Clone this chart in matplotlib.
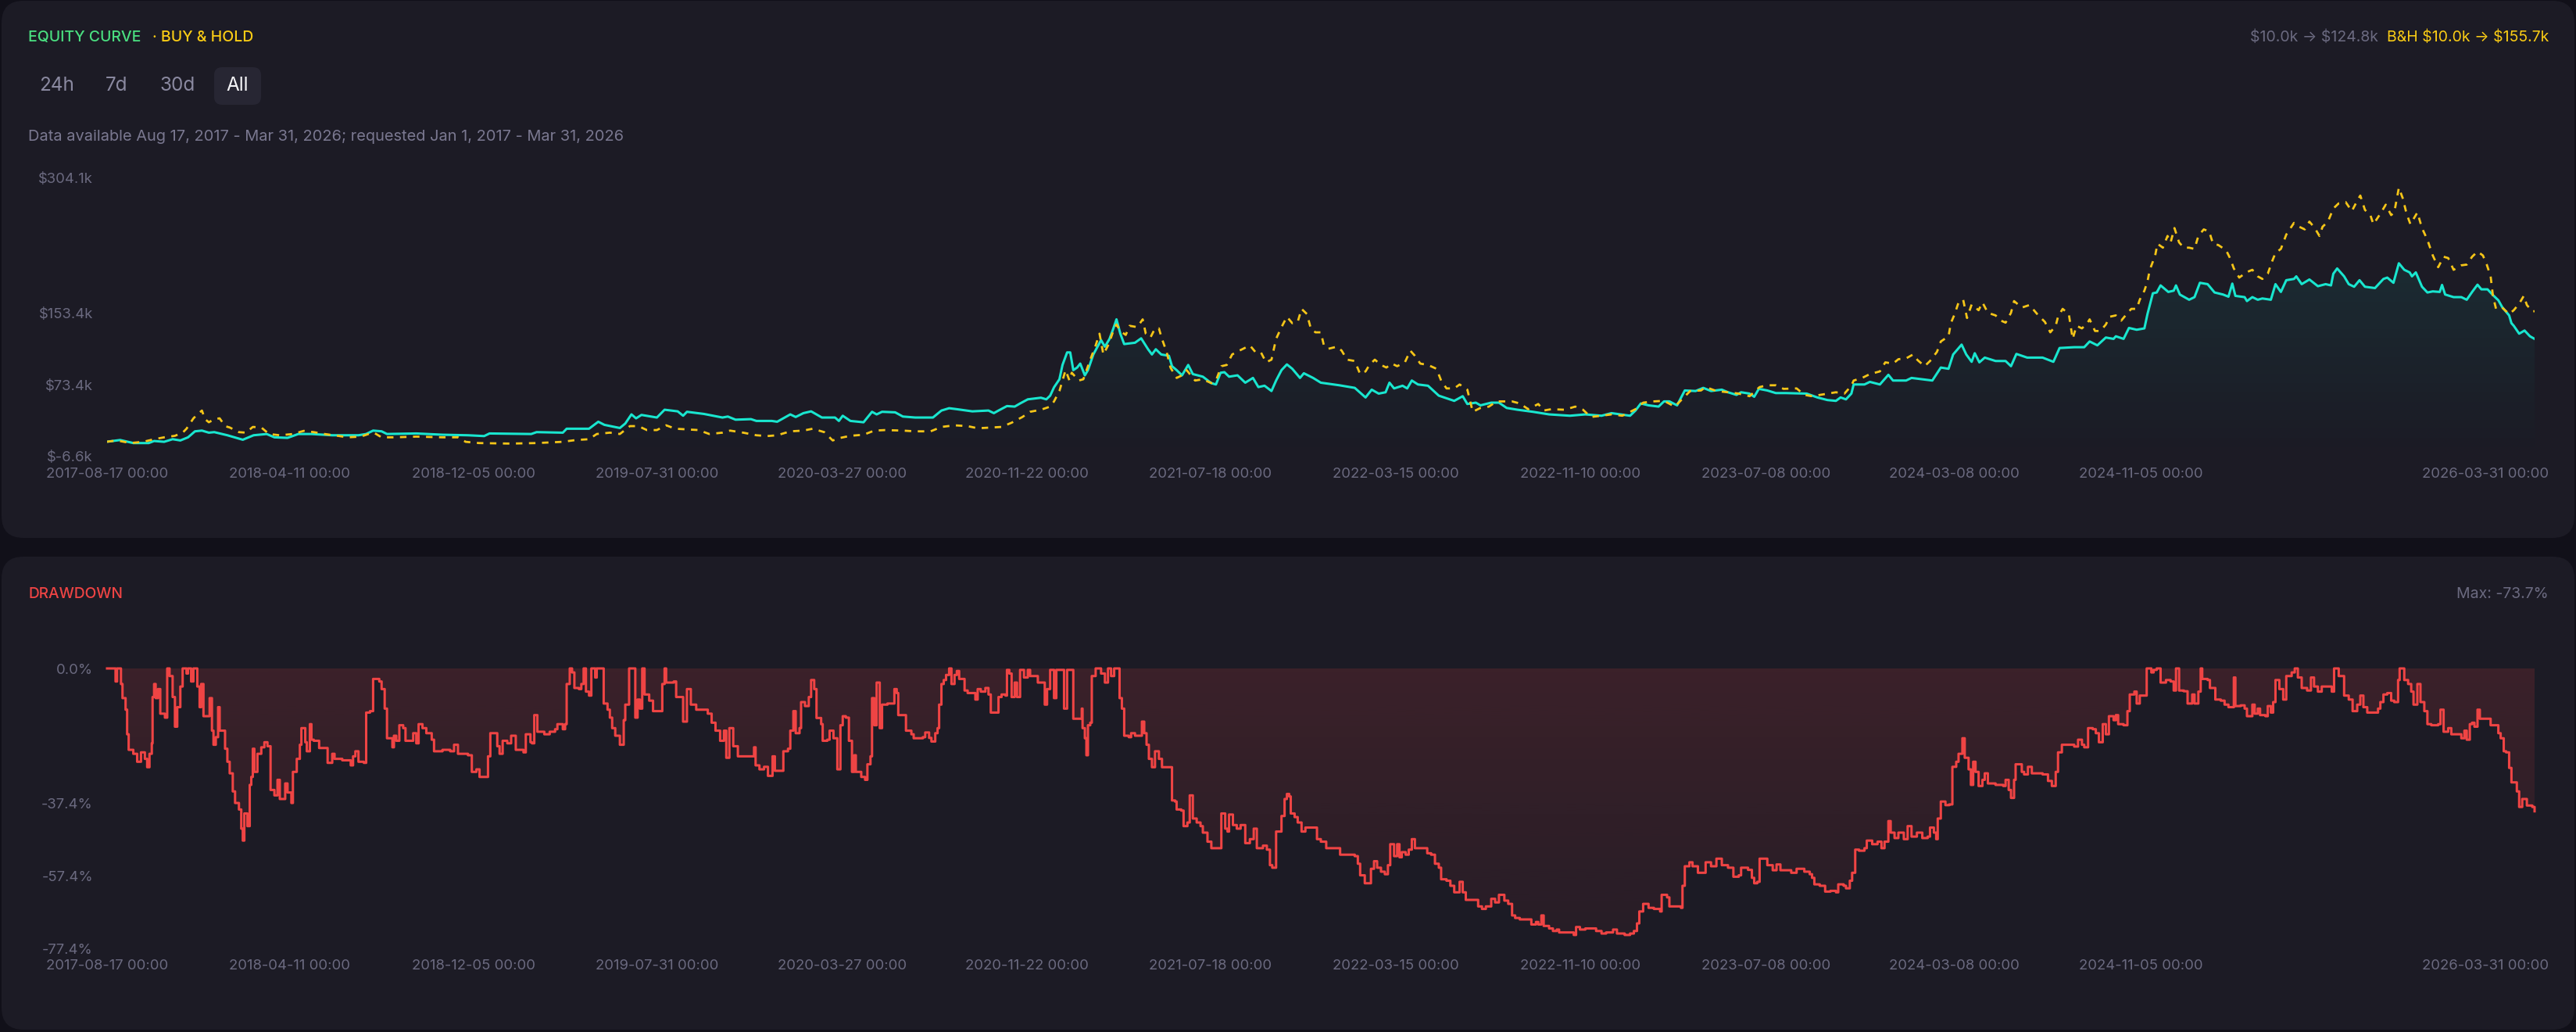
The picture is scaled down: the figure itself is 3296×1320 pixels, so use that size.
import matplotlib
matplotlib.use('Agg')
import matplotlib.pyplot as plt
import matplotlib.colors as mcolors
from matplotlib.patches import FancyBboxPatch
from matplotlib.transforms import IdentityTransform
import numpy as np
import pandas as pd

plt.rcParams['font.family'] = ['Inter', 'DejaVu Sans']

START = pd.Timestamp('2017-08-17')
END = pd.Timestamp('2026-03-31')

# strategy equity ($k), days since 2017-08-17
strat_days = [0, 17, 34, 54, 61, 74, 85, 95, 105, 114, 123, 132, 139, 156, 176, 190, 207, 217, 234, 248,
              265, 292, 326, 336, 345, 356, 363, 401, 435, 468, 489, 496, 550, 557, 591, 596, 608, 625, 637, 645,
              665, 672, 680, 686, 693, 713, 723, 740, 747, 752, 774, 798, 805, 815, 835, 842, 862, 869, 886, 893,
              903, 913, 927, 944, 949, 954, 964, 981, 992, 998, 1005, 1022, 1032,
              1048, 1071, 1082, 1092, 1102, 1122, 1143, 1150, 1156, 1167, 1177, 1184, 1194, 1211, 1218, 1223, 1228, 1235, 1239, 1245,
              1249, 1253, 1258, 1262, 1268, 1272, 1279, 1289, 1294, 1300, 1305, 1309, 1314, 1319, 1333, 1341, 1350, 1355, 1360, 1367,
              1377, 1381, 1387, 1394, 1402, 1408, 1421, 1432, 1438, 1444, 1449, 1455, 1466, 1476, 1486, 1493, 1501, 1510, 1516, 1523,
              1530, 1537, 1547, 1552, 1564, 1574, 1598, 1618, 1632, 1640, 1649, 1658, 1663, 1669, 1680, 1686, 1692, 1700, 1713, 1727,
              1747, 1758, 1764, 1775, 1781, 1795, 1805, 1815, 1829, 1849, 1870, 1897, 1917, 1938, 1951, 1975, 1982, 1989, 1999, 2012,
              2019, 2026, 2036, 2046, 2060, 2070, 2080, 2094,
              2102, 2113, 2119, 2130, 2136, 2142, 2153, 2164, 2177, 2204, 2218, 2231, 2242, 2248, 2255, 2262, 2265, 2279, 2286, 2299,
              2310, 2316, 2333, 2340, 2367, 2378, 2388, 2394, 2405, 2411, 2418, 2422, 2428, 2435, 2449, 2462, 2469, 2476, 2490, 2510,
              2524, 2532, 2551, 2564, 2571, 2581, 2592, 2602, 2605, 2615, 2622, 2632, 2642, 2646, 2653, 2658, 2663, 2673, 2680, 2683,
              2688, 2700, 2707, 2714, 2724, 2733, 2744, 2751, 2756, 2760, 2772, 2775, 2782, 2789, 2795, 2806, 2812, 2819, 2826, 2836,
              2839, 2846, 2856, 2867, 2877, 2884, 2887, 2892, 2901, 2907, 2914, 2921, 2928, 2941, 2952, 2957, 2965, 2972, 2979, 2986,
              2989, 2994, 3002, 3009, 3016, 3025, 3028, 3032, 3043, 3053, 3060, 3067, 3074, 3079, 3087, 3094, 3101, 3106, 3115, 3118,
              3121, 3128, 3135, 3142, 3148]
strat_vals = [10.0, 11.9, 8.5, 8.5, 10.8, 9.9, 12.8, 11.4, 14.9, 21.6, 22.4, 20.1, 20.7, 17.2, 12.2, 17.2, 18.6, 14.9, 14.3, 18.6,
              18.6, 17.2, 17.2, 18.6, 22.4, 21.6, 18.6, 19.2, 17.8, 17.2, 16.3, 19.2, 18.6, 20.7, 20.1, 24.5, 24.5, 24.5, 32.3, 28.8,
              25.3, 30.3, 40.5, 36.1, 39.9, 37.0, 45.7, 43.9, 39.0, 43.4, 41.0, 37.0, 38.1, 34.6, 35.2, 33.2, 33.2, 32.3, 40.5, 37.6,
              41.9, 43.9, 37.0, 37.0, 33.2, 39.0, 33.2, 31.7, 43.4, 40.5, 43.4, 42.8, 38.1,
              37.0, 37.0, 44.8, 47.4, 46.3, 43.9, 44.8, 41.9, 44.8, 49.8, 49.2, 52.7, 57.3, 59.1, 57.3, 61.4, 70.7, 79.7, 95.7, 109.7,
              109.7, 89.9, 92.8, 97.2, 84.1, 89.9, 107.4, 123.4, 116.1, 124.8, 136.5, 146.6, 130.6, 119.0, 120.5, 125.4, 113.2, 107.4, 113.2, 107.4,
              105.9, 94.3, 89.9, 84.1, 95.7, 85.5, 82.6, 75.4, 73.9, 87.0, 87.6, 82.6, 84.1, 75.9, 81.2, 71.0, 72.5, 66.6, 78.3, 89.9,
              96.3, 91.4, 81.2, 86.4, 81.2, 75.9, 73.0, 70.1, 59.4, 68.1, 63.7, 65.2, 75.9, 69.5, 72.5, 69.5, 78.3, 73.9, 72.5, 61.4,
              55.6, 60.8, 52.1, 53.6, 50.6, 53.6, 53.6, 47.7, 45.7, 43.4, 40.5, 39.0, 40.5, 39.0, 41.9, 39.0, 44.8, 52.7, 50.6, 49.2,
              55.0, 55.0, 50.6, 67.2, 66.6, 70.1, 66.6, 68.1,
              65.2, 62.3, 65.2, 63.7, 60.2, 69.0, 67.2, 64.3, 64.3, 63.7, 59.4, 56.5, 55.6, 59.4, 57.3, 63.7, 73.9, 73.9, 76.8, 73.9,
              84.7, 78.3, 78.3, 81.2, 78.3, 92.8, 91.4, 107.4, 118.4, 107.4, 99.2, 108.8, 98.6, 103.9, 100.1, 100.1, 94.3, 108.0, 103.9, 103.9,
              99.2, 114.6, 115.5, 115.5, 121.9, 117.6, 126.3, 124.8, 127.7, 124.8, 137.0, 135.0, 136.5, 152.5, 175.7, 176.6, 184.5, 177.2, 178.6, 184.5,
              174.3, 168.5, 171.4, 187.4, 185.9, 176.6, 174.3, 171.9, 186.5, 172.8, 171.4, 167.0, 171.4, 168.5, 169.9, 168.5, 185.9, 177.2, 190.3, 191.7,
              194.6, 185.9, 191.1, 183.6, 185.9, 184.5, 197.5, 203.4, 194.6, 185.9, 183.0, 190.3, 183.0, 181.5, 191.7, 193.2, 187.4, 209.2, 201.9, 199.0,
              194.6, 199.0, 183.0, 176.6, 177.8, 177.2, 185.0, 174.3, 171.4, 171.4, 168.5, 177.2, 185.3, 180.1, 180.1, 173.7, 167.9, 160.3, 151.0, 142.3,
              139.4, 130.6, 134.1, 127.7, 124.8]

# buy & hold equity ($k)
bh_days = [0, 13, 30, 47, 61, 74, 88, 98, 103, 112, 119, 123, 127, 132, 139, 146, 153, 159, 171, 180,
           189, 200, 210, 224, 241, 255, 268, 282, 299, 312, 329, 339, 346, 356, 373, 401, 435, 455, 465, 482,
           523, 557, 591, 608, 625, 635, 652, 665, 678, 689, 700, 713, 725, 737, 767, 781, 798, 808, 825, 842,
           856, 869, 886, 903, 915, 930, 941, 951, 964, 981, 995, 1009, 1032,
           1048, 1068, 1082, 1099, 1116, 1129, 1160, 1173, 1187, 1197, 1211, 1223, 1228, 1235, 1239, 1243, 1248, 1251, 1260, 1266,
           1275, 1282, 1287, 1292, 1299, 1306, 1309, 1314, 1321, 1326, 1336, 1343, 1347, 1353, 1359, 1364, 1368, 1374, 1379, 1387,
           1394, 1400, 1411, 1421, 1432, 1438, 1445, 1452, 1459, 1465, 1472, 1482, 1489, 1496, 1503, 1510, 1516, 1523, 1530, 1537,
           1544, 1549, 1556, 1561, 1567, 1574, 1578, 1584, 1595, 1601, 1608, 1618, 1625, 1632, 1637, 1644, 1652, 1659, 1666, 1673,
           1683, 1690, 1696, 1703, 1713, 1724, 1730, 1737, 1747, 1754, 1764, 1771, 1781, 1792, 1802, 1822, 1832, 1843, 1856, 1863,
           1873, 1890, 1904, 1914, 1924, 1938, 1951, 1965, 1982, 1992, 2005, 2019, 2033, 2043, 2053, 2067, 2073, 2087,
           2102, 2116, 2130, 2143, 2153, 2164, 2174, 2191, 2201, 2211, 2228, 2242, 2253, 2262, 2265, 2276, 2286, 2299, 2306, 2316,
           2323, 2333, 2342, 2348, 2357, 2364, 2373, 2378, 2388, 2391, 2396, 2401, 2407, 2412, 2418, 2427, 2432, 2439, 2449, 2456,
           2462, 2469, 2473, 2483, 2493, 2503, 2513, 2520, 2527, 2530, 2536, 2544, 2549, 2554, 2561, 2568, 2571, 2578, 2585, 2592,
           2597, 2605, 2612, 2619, 2625, 2632, 2636, 2642, 2646, 2649, 2656, 2659, 2666, 2672, 2676, 2681, 2687, 2693, 2700, 2707,
           2712, 2719, 2726, 2731, 2738, 2748, 2753, 2758, 2765, 2774, 2782, 2789, 2795, 2802, 2808, 2812, 2819, 2826, 2836, 2843,
           2850, 2856, 2863, 2869, 2873, 2880, 2887, 2894, 2903, 2911, 2918, 2922, 2928, 2935, 2939, 2948, 2955, 2962, 2966, 2972,
           2977, 2982, 2987, 2996, 3002, 3009, 3016, 3023, 3030, 3036, 3043, 3053, 3060, 3067, 3074, 3081, 3086, 3091, 3094, 3098,
           3106, 3115, 3121, 3128, 3134, 3138, 3145, 3148]
bh_vals = [10.0, 11.4, 8.5, 9.9, 12.8, 14.9, 16.6, 20.1, 24.5, 36.1, 41.9, 44.8, 35.2, 31.7, 35.2, 36.1, 27.4, 25.9, 20.7, 20.1,
           26.5, 25.9, 18.6, 17.2, 18.6, 22.1, 20.7, 18.6, 16.6, 14.9, 15.7, 18.6, 20.1, 14.9, 14.9, 15.7, 14.9, 14.9, 9.9, 8.5,
           7.9, 8.5, 9.9, 11.9, 12.8, 18.6, 20.1, 18.6, 27.4, 27.4, 23.0, 23.0, 28.3, 24.5, 23.0, 18.6, 20.1, 22.4, 20.1, 17.2,
           16.3, 17.2, 21.6, 22.4, 24.5, 20.7, 11.4, 14.3, 16.6, 17.8, 22.4, 23.0, 22.4,
           21.6, 21.6, 26.5, 28.3, 27.4, 25.0, 26.5, 31.2, 37.6, 43.4, 45.7, 49.2, 55.0, 66.6, 78.3, 89.9, 78.3, 87.0, 78.3, 79.7,
           101.6, 117.5, 130.6, 107.4, 119.0, 136.5, 140.8, 133.6, 129.2, 139.4, 137.9, 146.6, 130.6, 126.3, 136.5, 136.5, 124.8, 110.3, 92.8, 81.2,
           84.1, 89.9, 78.3, 79.7, 75.4, 78.3, 94.3, 95.7, 107.4, 110.3, 113.2, 117.5, 110.3, 110.3, 98.6, 101.6, 124.8, 137.9, 149.5, 142.3,
           143.7, 158.3, 152.5, 136.5, 132.1, 132.1, 117.5, 113.8, 116.1, 111.7, 101.6, 100.1, 85.5, 88.5, 95.7, 101.6, 95.7, 92.8, 97.2, 94.3,
           98.6, 111.7, 105.9, 97.2, 95.7, 91.4, 78.3, 69.5, 69.5, 73.9, 68.1, 43.4, 47.7, 49.2, 55.0, 55.0, 52.7, 46.3, 52.1, 44.8,
           46.3, 45.7, 49.2, 45.7, 37.6, 39.0, 40.5, 39.0, 46.3, 53.6, 55.0, 55.6, 49.2, 57.9, 66.6, 67.2, 71.0, 66.6,
           65.2, 63.7, 60.8, 71.0, 73.0, 73.0, 69.0, 69.5, 62.3, 60.8, 63.2, 65.2, 63.7, 72.5, 78.3, 81.2, 85.5, 88.5, 98.6, 97.2,
           102.1, 103.0, 107.4, 101.0, 94.3, 100.1, 110.3, 121.9, 127.7, 142.3, 152.5, 165.5, 168.5, 148.1, 163.2, 156.8, 165.5, 153.9, 151.0, 145.2,
           142.9, 153.9, 167.0, 159.7, 162.6, 152.5, 143.7, 132.1, 139.4, 149.5, 158.3, 152.5, 124.8, 139.4, 136.5, 142.3, 146.6, 133.6, 133.6, 140.8,
           149.5, 151.0, 145.2, 152.5, 158.3, 158.3, 168.5, 178.6, 188.8, 201.9, 217.9, 231.0, 226.6, 239.7, 232.5, 248.5, 232.5, 226.6, 226.6, 225.2,
           239.7, 247.0, 244.7, 231.0, 229.5, 223.7, 215.0, 203.4, 193.2, 199.0, 201.9, 194.6, 191.7, 197.5, 212.1, 220.8, 225.2, 241.2, 254.3, 249.9,
           247.0, 255.7, 248.5, 239.7, 249.9, 255.7, 270.3, 276.1, 277.5, 267.4, 279.0, 284.8, 268.8, 263.0, 252.8, 264.5, 274.6, 263.0, 265.9, 293.5,
           281.9, 264.5, 252.8, 265.9, 248.5, 235.4, 217.9, 204.8, 216.5, 215.0, 201.9, 206.9, 207.7, 216.5, 222.3, 217.9, 207.7, 194.6, 172.8, 158.3,
           159.7, 152.5, 156.8, 164.1, 172.8, 162.6, 155.4, 155.7]

# drawdown (%), (day, value)
dd_points = [
    (0, 0), (11, -3.6), (13, 0), (17, 0), (18, -4.3), (20, -8.2), (24, -11.4), (26, -18.2), (28, -22.5), (34, -23.6),
    (39, -25.8), (44, -23.2), (49, -25.0), (52, -27.3), (55, -23.6), (58, -20.7), (59, -7.9), (61, -4.3), (63, -8.2), (66, -5.7),
    (69, -12.5), (75, -13.6), (78, 0), (81, -2.1), (85, -7.9), (88, -16.1), (91, -10.7), (95, -5.0), (98, 0), (103, -1.4),
    (105, 0), (109, -3.6), (112, 0), (115, 0), (117, -5.0), (120, -10.7), (122, -4.3), (125, -13.2), (131, -13.2), (133, -8.2),
    (136, -17.2), (138, -21.1), (141, -19.0), (144, -10.7), (146, -17.2), (151, -17.2), (153, -22.2), (156, -25.8), (159, -29.0), (163, -34.0),
    (166, -37.2), (171, -39.0), (174, -44.3), (176, -47.6), (178, -40.1), (182, -43.6), (185, -32.2), (187, -30.0), (189, -22.2), (191, -28.6),
    (195, -23.6), (200, -21.8), (204, -20.4), (208, -21.5), (212, -33.6), (217, -35.1), (221, -30.8), (224, -36.1), (227, -36.1), (231, -31.8),
    (234, -34.3), (239, -37.2), (241, -28.6), (246, -25.0), (250, -21.1), (252, -16.5), (257, -20.4), (259, -22.9), (263, -15.4), (265, -19.7),
    (268, -20.0), (275, -22.0), (284, -22.0), (286, -26.1), (292, -23.6), (295, -25.0), (305, -25.4), (316, -26.8), (319, -24.3), (322, -22.9),
    (326, -25.8), (333, -26.1), (336, -12.2), (341, -11.8), (345, -2.9), (353, -3.6), (356, -5.7), (360, -11.1), (363, -19.3), (370, -21.8),
    (372, -18.6), (375, -20.0), (379, -15.7), (384, -16.5), (387, -20.0), (394, -20.0), (397, -17.9), (401, -20.7), (404, -15.4), (409, -16.5),
    (414, -17.9), (421, -19.7), (424, -22.9), (435, -22.5), (445, -22.9), (450, -21.1), (455, -23.6), (468, -24.0), (473, -28.6), (479, -27.9),
    (483, -30.0), (490, -30.0), (494, -24.3), (497, -17.9), (501, -17.9), (506, -21.5), (509, -23.6), (513, -20.0), (519, -20.7), (524, -18.6),
    (530, -22.5), (540, -23.2), (543, -18.2), (549, -20.4), (551, -20.7), (554, -12.9), (558, -17.5), (567, -18.2), (574, -17.5), (581, -16.8),
    (584, -15.4), (591, -16.8), (594, -15.4), (596, -4.3), (600, 0), (603, -1.1), (606, -5.4), (612, -5.7), (615, -4.3), (618, 0),
    (621, -6.4), (625, -7.5), (628, 0), (633, -2.5), (635, 0), (642, 0), (644, -9.7), (649, -11.4), (652, -13.6), (655, -16.5),
    (659, -18.6), (665, -21.1), (670, -14.3), (672, -10.0), (677, 0), (682, 0), (685, -13.6), (688, -8.6), (691, -11.1), (694, 0),
    (697, -7.2), (703, -8.9), (708, -11.8), (714, -11.8), (720, -4.3), (723, 0), (725, -3.9), (735, -3.6), (738, -7.9), (744, -7.9),
    (747, -14.7), (752, -5.7), (757, -10.0), (764, -11.4), (776, -11.4), (779, -12.5), (784, -15.0), (789, -17.2), (795, -20.0), (800, -17.2),
    (803, -24.7), (807, -16.5), (812, -21.5), (818, -24.3), (835, -24.3), (839, -21.8), (841, -26.8), (846, -27.9), (852, -27.2), (857, -29.7),
    (863, -24.3), (866, -28.3), (874, -28.3), (877, -22.9), (883, -22.2), (886, -17.2), (890, -11.8), (893, -17.9), (898, -16.5), (900, -9.3),
    (905, -10.4), (910, -7.9), (913, -3.2), (917, -5.7), (920, -13.7), (926, -15.4), (928, -20.0), (934, -19.7), (937, -17.2), (942, -19.3),
    (945, -19.3), (947, -27.9), (951, -15.7), (954, -13.2), (958, -13.6), (962, -20.0), (966, -28.6), (969, -24.0), (971, -28.6), (978, -30.0),
    (983, -30.8), (986, -26.5), (990, -24.3), (992, -8.2), (995, -15.7), (998, -3.9), (1002, -16.5), (1005, -10.0), (1012, -9.7), (1019, -9.7),
    (1021, -5.7), (1024, -6.8), (1026, -12.9), (1032, -12.9), (1036, -17.2), (1043, -18.2), (1046, -19.3),
    (1048, -19.3), (1058, -19.0), (1061, -17.7), (1066, -19.2), (1069, -20.2), (1074, -17.9), (1077, -16.5), (1079, -10.0), (1082, -4.3), (1085, -3.2),
    (1088, -1.8), (1092, 0), (1095, -4.3), (1099, -1.8), (1102, -0.7), (1105, -2.9), (1112, -6.1), (1116, -6.8), (1122, -6.8), (1126, -8.6),
    (1129, -5.7), (1133, -6.4), (1139, -5.4), (1143, -7.2), (1146, -12.2), (1153, -12.2), (1156, -7.9), (1160, -7.2), (1165, -7.5), (1167, -0.4),
    (1170, -1.4), (1173, -7.9), (1177, -3.9), (1180, -7.9), (1184, -0.4), (1189, -2.5), (1194, -0.4), (1197, -2.1), (1203, -2.1), (1207, -3.9),
    (1213, -3.9), (1216, -10.0), (1219, -5.7), (1223, -0.4), (1226, -0.4), (1228, -8.2), (1231, -0.4), (1238, -0.4), (1241, -11.1), (1245, -0.4),
    (1250, -0.4), (1253, -13.9), (1262, -13.9), (1264, -11.1), (1265, -16.5), (1268, -19.3), (1270, -24.0), (1272, -15.7), (1275, -15.0), (1277, -2.1),
    (1282, 0), (1285, 0), (1289, -1.4), (1294, -3.9), (1298, 0), (1302, -2.1), (1306, 0), (1309, 0), (1313, -8.2), (1316, -11.1),
    (1319, -18.6), (1325, -19.0), (1328, -17.9), (1333, -18.6), (1340, -18.6), (1342, -14.7), (1345, -17.9), (1348, -21.1), (1351, -25.0), (1355, -27.3),
    (1359, -22.9), (1364, -25.0), (1368, -27.3), (1377, -27.3), (1381, -36.5), (1385, -36.8), (1387, -39.0), (1393, -39.3), (1396, -43.6), (1401, -42.6),
    (1404, -35.1), (1408, -41.5), (1413, -42.6), (1418, -43.6), (1421, -45.4), (1427, -47.9), (1432, -49.7), (1442, -49.7), (1445, -40.1), (1450, -44.3),
    (1453, -45.1), (1455, -40.4), (1460, -43.3), (1465, -44.3), (1470, -43.3), (1476, -48.3), (1482, -47.2), (1487, -44.3), (1491, -49.7), (1496, -49.7),
    (1499, -49.0), (1504, -50.1), (1508, -54.4), (1511, -55.1), (1516, -45.1), (1523, -40.8), (1527, -36.1), (1530, -34.7), (1533, -35.4), (1535, -40.1),
    (1540, -41.1), (1544, -42.6), (1549, -45.1), (1554, -44.0), (1564, -44.0), (1569, -47.2), (1574, -47.9), (1581, -49.7), (1595, -49.7), (1599, -51.5),
    (1618, -51.9), (1622, -54.0), (1625, -57.2), (1631, -59.4), (1635, -59.4), (1639, -55.4), (1643, -53.3), (1647, -55.1), (1652, -56.2), (1657, -56.9),
    (1661, -54.4), (1664, -48.6), (1669, -51.9), (1673, -48.6), (1676, -52.2), (1679, -50.8), (1684, -51.5), (1688, -50.1), (1692, -47.2), (1696, -49.7),
    (1707, -49.7), (1712, -51.1), (1717, -51.5), (1722, -54.0), (1727, -55.1), (1730, -58.3), (1737, -58.7), (1742, -60.1), (1747, -61.9), (1754, -59.0),
    (1758, -61.9), (1762, -64.0), (1771, -64.0), (1778, -65.8), (1783, -66.5), (1788, -65.8), (1795, -63.7), (1800, -64.7), (1805, -62.6), (1812, -64.2),
    (1817, -65.1), (1822, -68.3), (1826, -69.0), (1832, -69.4), (1841, -69.4), (1847, -70.8), (1853, -70.1), (1856, -70.8), (1860, -68.3), (1863, -71.2),
    (1870, -71.9), (1875, -72.6), (1880, -72.2), (1883, -73.0), (1893, -73.0), (1902, -73.7), (1905, -71.5), (1910, -72.2), (1917, -71.9), (1925, -71.9),
    (1931, -72.6), (1938, -73.3), (1944, -73.0), (1953, -72.2), (1958, -73.3), (1968, -73.7), (1975, -73.3), (1980, -72.6), (1984, -70.5), (1987, -67.2),
    (1992, -65.1), (1999, -66.2), (2006, -66.5), (2014, -67.2), (2016, -62.6), (2023, -63.3), (2026, -65.8), (2041, -66.2), (2043, -60.1), (2046, -54.7),
    (2052, -53.6), (2056, -54.7), (2063, -56.5), (2070, -56.5), (2073, -53.6), (2080, -54.7), (2087, -52.6), (2094, -54.4),
    (2102, -55.1), (2109, -57.6), (2116, -57.2), (2119, -55.1), (2128, -55.7), (2133, -57.9), (2136, -59.4), (2140, -59.0), (2143, -52.6), (2153, -54.4),
    (2160, -55.8), (2165, -54.2), (2170, -55.8), (2181, -55.8), (2184, -56.5), (2191, -55.4), (2201, -56.2), (2208, -56.9), (2211, -57.9), (2214, -59.7),
    (2221, -60.1), (2228, -61.7), (2235, -61.5), (2242, -61.9), (2245, -59.7), (2252, -60.1), (2255, -60.8), (2260, -58.7), (2263, -56.5), (2267, -50.1),
    (2272, -50.4), (2279, -49.7), (2282, -47.6), (2289, -48.6), (2296, -47.9), (2301, -49.7), (2305, -47.9), (2310, -42.2), (2313, -45.4), (2318, -46.9),
    (2323, -45.4), (2330, -47.2), (2335, -43.6), (2340, -46.5), (2347, -45.4), (2354, -46.9), (2361, -46.5), (2364, -44.0), (2369, -45.4), (2372, -47.2),
    (2374, -41.5), (2378, -36.8), (2384, -37.8), (2389, -37.6), (2393, -27.2), (2398, -25.8), (2401, -23.6), (2406, -19.3), (2409, -24.7), (2414, -27.9),
    (2417, -32.2), (2420, -25.8), (2423, -28.6), (2427, -32.5), (2432, -30.8), (2435, -29.0), (2439, -31.8), (2449, -32.2), (2459, -32.5), (2462, -30.8),
    (2466, -33.6), (2469, -35.8), (2473, -30.8), (2475, -26.5), (2483, -28.6), (2486, -29.3), (2491, -27.2), (2496, -29.0), (2510, -29.3), (2517, -31.1),
    (2522, -32.5), (2527, -28.6), (2530, -23.2), (2535, -21.1), (2551, -21.6), (2556, -19.7), (2561, -21.1), (2564, -21.8), (2569, -16.5), (2575, -16.8),
    (2579, -17.9), (2583, -20.4), (2588, -15.4), (2592, -18.2), (2596, -13.2), (2602, -14.3), (2605, -12.9), (2608, -15.4), (2615, -15.7), (2620, -11.8),
    (2623, -7.2), (2629, -6.4), (2632, -9.7), (2636, -7.5), (2642, -7.5), (2645, 0), (2651, -1.1), (2654, -0.4), (2658, 0), (2663, -3.9),
    (2670, -3.2), (2676, -3.6), (2680, -6.1), (2683, 0), (2687, -6.1), (2693, -6.3), (2698, -9.7), (2704, -7.2), (2707, -9.7), (2712, -6.4),
    (2715, 0), (2717, -2.9), (2724, -3.2), (2727, -5.4), (2734, -8.6), (2741, -8.9), (2746, -10.0), (2751, -10.7), (2758, -2.5), (2760, -10.4),
    (2767, -10.2), (2772, -11.1), (2775, -13.2), (2782, -10.0), (2785, -12.5), (2789, -11.1), (2792, -12.9), (2799, -13.2), (2802, -10.4), (2806, -12.2),
    (2809, -9.3), (2812, -3.2), (2817, -5.7), (2822, -8.6), (2826, -2.1), (2833, -1.1), (2837, 0), (2841, -2.5), (2846, -5.4), (2853, -6.1),
    (2858, -2.5), (2862, -5.0), (2867, -6.4), (2872, -5.0), (2880, -5.0), (2885, -6.4), (2888, 0), (2894, -2.1), (2901, -7.5), (2907, -8.6),
    (2912, -11.8), (2918, -10.0), (2922, -7.5), (2926, -10.7), (2931, -12.2), (2941, -12.2), (2945, -11.1), (2948, -9.3), (2952, -7.2), (2957, -6.8),
    (2962, -8.9), (2966, -9.3), (2971, -3.2), (2973, 0), (2979, -3.2), (2984, -4.3), (2988, -6.4), (2991, -10.0), (2996, -4.3), (3000, -9.3),
    (3005, -11.8), (3009, -15.4), (3014, -15.7), (3023, -15.4), (3026, -11.4), (3030, -17.5), (3036, -16.5), (3040, -18.2), (3050, -18.2), (3053, -19.3),
    (3057, -17.2), (3060, -19.7), (3064, -15.4), (3067, -15.0), (3070, -16.1), (3074, -11.4), (3077, -13.9), (3087, -13.9), (3091, -15.7), (3098, -15.7),
    (3101, -17.9), (3104, -19.3), (3108, -22.9), (3111, -23.2), (3115, -27.5), (3118, -31.5), (3125, -34.0), (3128, -38.3), (3132, -36.1), (3136, -36.1),
    (3138, -37.9), (3145, -38.3), (3148, -39.5),
]

x_tick_dates = ['2017-08-17', '2018-04-11', '2018-12-05', '2019-07-31', '2020-03-27', '2020-11-22', '2021-07-18',
                '2022-03-15', '2022-11-10', '2023-07-08', '2024-03-08', '2024-11-05', '2026-03-31']
eq_ticks = [-6.6, 73.4, 153.4, 304.1]
eq_tick_labels = [r'\$-6.6k', r'\$73.4k', r'\$153.4k', r'\$304.1k']
dd_ticks = [0.0, -37.4, -57.4, -77.4]
dd_tick_labels = ['0.0%', '-37.4%', '-57.4%', '-77.4%']

BG = '#111019'
PANEL = '#1c1b25'
CYAN = '#19e6cf'
GOLD = '#f5c518'
RED = '#ef4444'
TICK = '#6b6a80'
TICK_SIZE = 13.3

W, H = 3296, 1320


def to_dates(days):
    return START + pd.to_timedelta(np.asarray(days), unit='D')


def fx(px):
    return px / W


def fy(py):
    return 1 - py / H


def gradient_fill(ax, x, y, y0, color, a_top, a_bot, step=None):
    poly = ax.fill_between(x, y, y0, color='none', lw=0, step=step)
    xlim = ax.get_xlim()
    ylim = ax.get_ylim()
    img = np.zeros((256, 1, 4))
    img[:, :, :3] = mcolors.to_rgb(color)
    img[:, 0, 3] = np.linspace(a_top, a_bot, 256)
    im = ax.imshow(img, aspect='auto', origin='upper', zorder=1,
                   extent=[xlim[0], xlim[1], ylim[0], ylim[1]])
    im.set_clip_path(poly.get_paths()[0], transform=ax.transData)
    ax.set_xlim(xlim)
    ax.set_ylim(ylim)


def style_axis(ax, ticks, labels, bottom_px):
    for s in ax.spines.values():
        s.set_visible(False)
    ax.set_facecolor('none')
    ax.set_yticks(ticks)
    ax.set_yticklabels(labels)
    tick_pos = pd.to_datetime(x_tick_dates)
    ax.set_xticks(tick_pos)
    # last date label is pushed inside the panel edge, drawn separately
    ax.set_xticklabels([d + ' 00:00' for d in x_tick_dates[:-1]] + [''])
    ax.tick_params(axis='both', length=0, colors=TICK, labelsize=TICK_SIZE)
    ax.tick_params(axis='y', pad=13)
    ax.tick_params(axis='x', pad=10)
    fig.text(fx(3261), fy(bottom_px + 10 * 100 / 72), x_tick_dates[-1] + ' 00:00',
             color=TICK, fontsize=TICK_SIZE, ha='right', va='top')


fig = plt.figure(figsize=(W / 100, H / 100), dpi=100)
fig.patch.set_facecolor(BG)

# rounded panels
for top, bottom in [(1, 688), (712, 1317)]:
    fig.add_artist(FancyBboxPatch((2, H - bottom), W - 4, bottom - top,
                                  boxstyle='round,pad=0,rounding_size=28',
                                  transform=IdentityTransform(), facecolor=PANEL, edgecolor='none', zorder=0))
# "All" button background
fig.add_artist(FancyBboxPatch((274, H - 134), 60, 48, boxstyle='round,pad=0,rounding_size=10',
                              transform=IdentityTransform(), facecolor='#272633', edgecolor='none', zorder=1))

strat_dates = to_dates(strat_days)
bh_dates = to_dates(bh_days)
dd_days = [p[0] for p in dd_points]
dd_vals = [p[1] for p in dd_points]
dd_dates = to_dates(dd_days)

# equity curve
ax1 = fig.add_axes([fx(137), fy(584), fx(3243 - 137), (584 - 228) / H])
ax1.set_xlim(START, END)
ax1.set_ylim(-6.6, 304.1)
gradient_fill(ax1, strat_dates, strat_vals, -6.6, CYAN, 0.12, 0.0)
ax1.plot(strat_dates, strat_vals, color=CYAN, lw=2.2, zorder=4)
ax1.plot(bh_dates, bh_vals, color=GOLD, lw=2.0, ls=(0, (3, 3)), zorder=5)
style_axis(ax1, eq_ticks, eq_tick_labels, 584)

# drawdown
ax2 = fig.add_axes([fx(137), fy(1213), fx(3243 - 137), (1213 - 855) / H])
ax2.set_xlim(START, END)
ax2.set_ylim(-77.4, 0)
gradient_fill(ax2, dd_dates, dd_vals, 0, RED, 0.15, 0.05, step='post')
ax2.plot(dd_dates, dd_vals, color=RED, lw=2.2, drawstyle='steps-post', zorder=4, clip_on=False)
style_axis(ax2, dd_ticks, dd_tick_labels, 1213)

# header texts
fig.text(fx(36), fy(48), 'EQUITY CURVE', color='#4ade80', fontsize=14, va='center', fontweight='medium')
fig.text(fx(195), fy(48), '· BUY & HOLD', color='#facc15', fontsize=14, va='center', fontweight='medium')
fig.text(fx(3043), fy(48), r'\$10.0k → \$124.8k', color=TICK, fontsize=14, va='center', ha='right')
fig.text(fx(3261), fy(48), r'B&H \$10.0k → \$155.7k', color='#facc15', fontsize=14, va='center', ha='right')

for label, cx in [('24h', 73), ('7d', 149), ('30d', 227), ('All', 304)]:
    fig.text(fx(cx), fy(110), label, color='#f4f4f7' if label == 'All' else '#8a89a0',
             fontsize=17.5, ha='center', va='center', zorder=2)

fig.text(fx(36), fy(175), 'Data available Aug 17, 2017 - Mar 31, 2026; requested Jan 1, 2017 - Mar 31, 2026',
         color='#7a7890', fontsize=14.4, va='center')

fig.text(fx(36), fy(760), 'DRAWDOWN', color=RED, fontsize=13.8, va='center', fontweight='medium')
fig.text(fx(3261), fy(760), 'Max: -73.7%', color=TICK, fontsize=14, va='center', ha='right')

fig.savefig('out.png', dpi=100, facecolor=BG)
